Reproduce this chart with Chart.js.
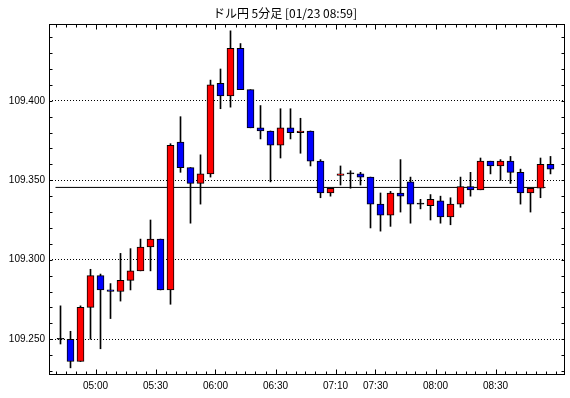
<!DOCTYPE html>
<html>
<head>
<meta charset="utf-8">
<script src="https://cdn.jsdelivr.net/npm/chart.js@4/dist/chart.umd.min.js"></script>
<style>
  html, body { margin: 0; padding: 0; background: #fff; }
  #wrap { width: 570px; height: 398px; }
</style>
</head>
<body>
<div id="wrap"><canvas id="c" width="570" height="398"></canvas></div>
<script>
// ─── Data ────────────────────────────────────────────────────────────────────
const TITLE = 'ドル円 5分足 [01/23 08:59]';

const times = [
    '04:40', '04:45', '04:50', '04:55', '05:00', '05:05', '05:10', '05:15', '05:20', '05:25',
    '05:30', '05:35', '05:40', '05:45', '05:50', '05:55', '06:00', '06:05', '06:10', '06:15',
    '06:20', '06:25', '06:30', '06:35', '06:40', '06:45', '06:50', '07:05', '07:10', '07:15',
    '07:20', '07:25', '07:30', '07:35', '07:40', '07:45', '07:50', '07:55', '08:00', '08:05',
    '08:10', '08:15', '08:20', '08:25', '08:30', '08:35', '08:40', '08:45', '08:50', '08:55'
];
const tickTimes = ['05:00', '05:30', '06:00', '06:30', '07:10', '07:30', '08:00', '08:30'];

const opens = [
    109.250, 109.250, 109.236, 109.270, 109.290, 109.281, 109.280, 109.287, 109.293, 109.308,
    109.313, 109.281, 109.374, 109.358, 109.348, 109.354, 109.411, 109.403, 109.433, 109.407,
    109.383, 109.381, 109.372, 109.383, 109.380, 109.381, 109.362, 109.342, 109.353, 109.354,
    109.354, 109.352, 109.335, 109.328, 109.342, 109.349, 109.335, 109.334, 109.337, 109.327,
    109.335, 109.346, 109.344, 109.362, 109.359, 109.362, 109.355, 109.342, 109.345, 109.360
];
const highs = [
    109.271, 109.255, 109.271, 109.294, 109.291, 109.285, 109.304, 109.307, 109.313, 109.325,
    109.313, 109.373, 109.390, 109.358, 109.366, 109.413, 109.420, 109.444, 109.436, 109.407,
    109.397, 109.381, 109.395, 109.395, 109.389, 109.381, 109.363, 109.345, 109.359, 109.356,
    109.355, 109.352, 109.342, 109.343, 109.363, 109.352, 109.338, 109.341, 109.340, 109.339,
    109.352, 109.355, 109.364, 109.362, 109.363, 109.365, 109.357, 109.345, 109.364, 109.365
];
const lows = [
    109.247, 109.232, 109.236, 109.250, 109.244, 109.263, 109.274, 109.281, 109.293, 109.293,
    109.281, 109.272, 109.355, 109.323, 109.335, 109.352, 109.395, 109.396, 109.407, 109.383,
    109.376, 109.349, 109.364, 109.376, 109.367, 109.359, 109.339, 109.340, 109.347, 109.345,
    109.347, 109.320, 109.318, 109.321, 109.330, 109.323, 109.332, 109.325, 109.323, 109.322,
    109.333, 109.340, 109.344, 109.354, 109.350, 109.348, 109.335, 109.330, 109.339, 109.354
];
const closes = [
    109.250, 109.236, 109.270, 109.290, 109.281, 109.280, 109.287, 109.293, 109.308, 109.313,
    109.281, 109.372, 109.358, 109.348, 109.354, 109.410, 109.403, 109.433, 109.407, 109.383,
    109.381, 109.372, 109.383, 109.380, 109.381, 109.362, 109.342, 109.345, 109.354, 109.354,
    109.352, 109.335, 109.328, 109.342, 109.340, 109.335, 109.335, 109.338, 109.327, 109.335,
    109.346, 109.344, 109.362, 109.359, 109.362, 109.355, 109.342, 109.345, 109.360, 109.357
];
const refLine = 109.3455;

const yTicks = [109.25, 109.30, 109.35, 109.40];

// ─── Helpers ─────────────────────────────────────────────────────────────────
const UP = '#ff0000', DOWN = '#0000ff', INK = '#000000';

function candleColor(i) {
    if (closes[i] > opens[i]) return UP;
    if (closes[i] < opens[i]) return DOWN;
    return INK;
}

const bodies = opens.map((o, i) => ({ x: i, y: [o, closes[i]] }));
const wicks  = lows.map((l, i) => ({ x: i, y: [l, highs[i]] }));

// frame, inward tick marks and title
const framePlugin = {
    id: 'frame',
    afterDraw(chart) {
        const { ctx, chartArea: a, scales: { x, y } } = chart;
        const L = Math.round(a.left) + 0.5, R = Math.round(a.right) - 0.5;
        const T = Math.round(a.top) + 0.5,  B = Math.round(a.bottom) - 0.5;
        ctx.save();
        ctx.strokeStyle = INK;
        ctx.lineWidth = 1;
        ctx.beginPath();
        // x ticks on candle boundaries, longer at labelled times
        for (let i = 0; i <= times.length; i++) {
            const px = Math.round(x.getPixelForValue(i - 0.5)) + 0.5;
            if (px <= L || px >= R) continue;
            const len = tickTimes.includes(times[i]) ? 5 : 3;
            ctx.moveTo(px, B); ctx.lineTo(px, B - len);
            ctx.moveTo(px, T); ctx.lineTo(px, T + len);
        }
        // y ticks every 0.010
        for (let k = 0; k < 30; k++) {
            const v = 109.22 + k * 0.01;
            const py = Math.round(y.getPixelForValue(v)) + 0.5;
            if (py <= T || py >= B) continue;
            ctx.moveTo(L, py); ctx.lineTo(L + 3, py);
            ctx.moveTo(R, py); ctx.lineTo(R - 3, py);
        }
        ctx.stroke();
        ctx.strokeRect(L, T, R - L, B - T);

        ctx.fillStyle = INK;
        ctx.font = '12px "Noto Sans CJK JP"';
        ctx.textAlign = 'center';
        ctx.textBaseline = 'middle';
        ctx.fillText(TITLE, chart.width / 2, 13);
        ctx.restore();
    }
};

const bgPlugin = {
    id: 'bg',
    beforeDraw(chart) {
        const ctx = chart.ctx;
        ctx.save();
        ctx.fillStyle = '#fff';
        ctx.fillRect(0, 0, chart.width, chart.height);
        ctx.restore();
    }
};

Chart.defaults.font.family = '"Liberation Sans", Arial, sans-serif';
Chart.defaults.font.size = 10;
Chart.defaults.color = INK;

new Chart(document.getElementById('c'), {
    type: 'bar',
    data: {
        datasets: [
            {
                label: 'body',
                data: bodies,
                backgroundColor: opens.map((_, i) => candleColor(i)),
                borderColor: INK,
                borderWidth: 1,
                borderSkipped: false,
                barThickness: 7,
                minBarLength: 1,
                grouped: false,
            },
            {
                label: 'wick',
                data: wicks,
                backgroundColor: INK,
                borderWidth: 0,
                barThickness: 1,
                grouped: false,
            },
            {
                type: 'line',
                label: 'ref',
                data: [{ x: -0.5, y: refLine }, { x: opens.length - 1.5, y: refLine }],
                borderColor: INK,
                borderWidth: 1,
                pointRadius: 0,
                fill: false,
            },
        ],
    },
    options: {
        responsive: false,
        animation: false,
        layout: { padding: { top: 24, right: 5, left: 0, bottom: 0 } },
        plugins: {
            legend: { display: false },
            tooltip: { enabled: false },
            title: { display: false },
        },
        scales: {
            x: {
                type: 'linear',
                offset: false,
                min: -1.15,
                max: 50.45,
                afterBuildTicks: s => { s.ticks = tickTimes.map(t => ({ value: times.indexOf(t) - 0.5 })); },
                afterFit: s => { s.height = 23; },
                ticks: {
                    autoSkip: false,
                    maxRotation: 0,
                    padding: 5,
                    callback: v => times[Math.round(v + 0.5)],
                },
                grid: { display: false, drawTicks: false, offset: false },
                border: { display: false },
            },
            y: {
                min: 109.2275,
                max: 109.4483,
                afterBuildTicks: s => { s.ticks = yTicks.map(v => ({ value: v })); },
                afterFit: s => { s.width = 49; },
                ticks: {
                    padding: 4,
                    callback: v => v.toFixed(3),
                },
                grid: { color: INK, lineWidth: 1, drawTicks: false },
                border: { display: false, dash: [1, 2] },
            },
        },
    },
    plugins: [bgPlugin, framePlugin],
});
</script>
</body>
</html>
